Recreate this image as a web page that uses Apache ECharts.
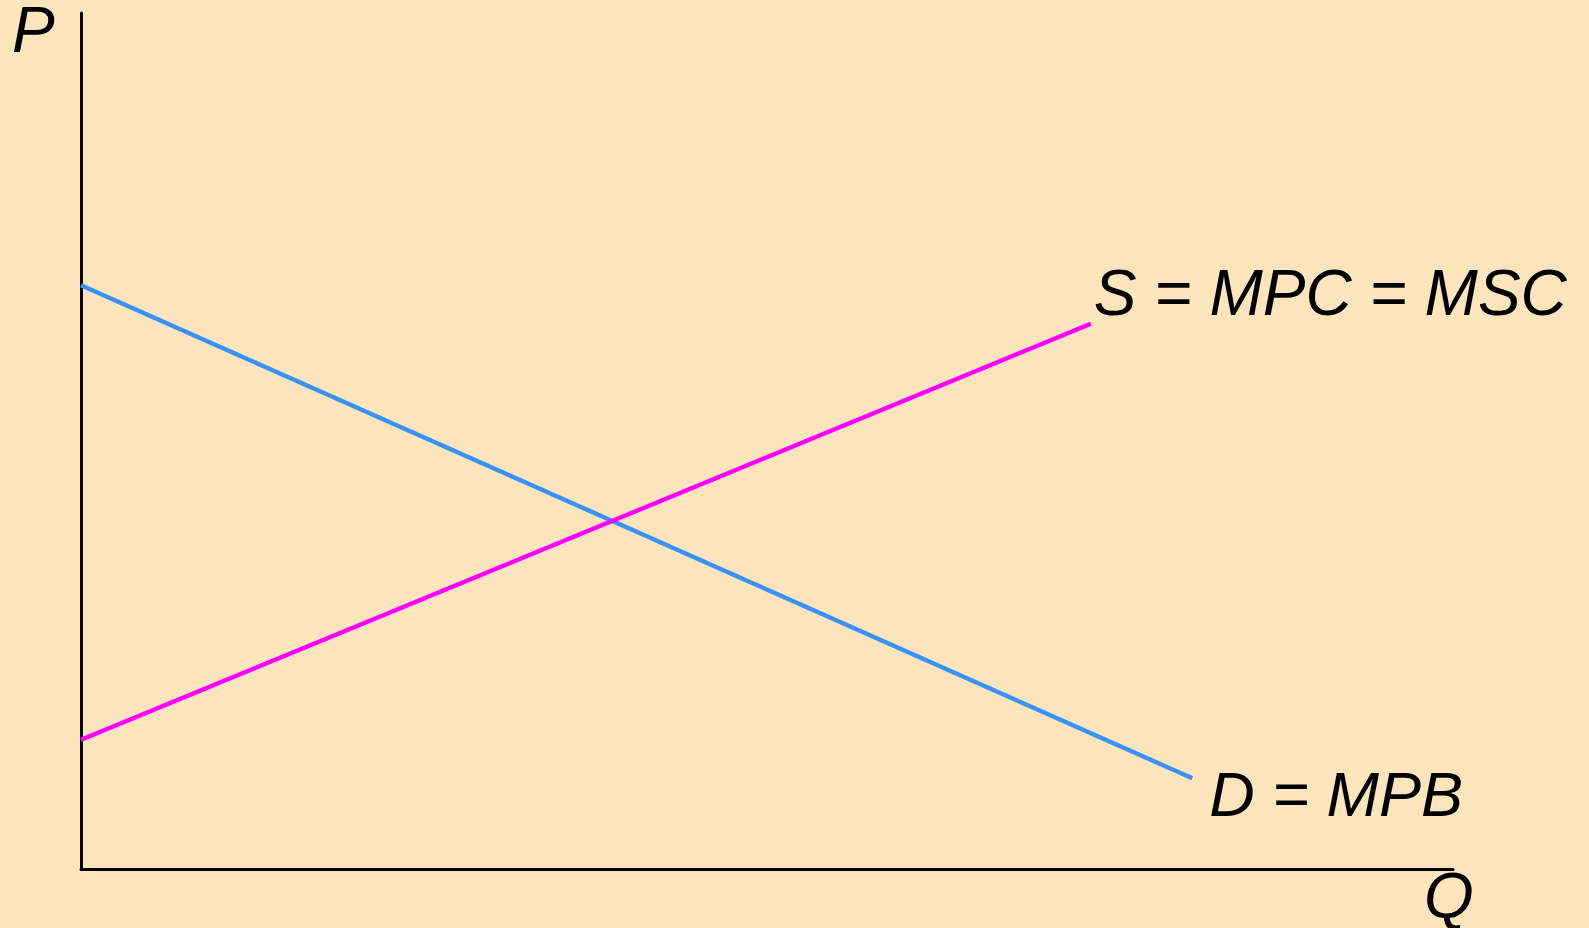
<!DOCTYPE html>
<html>
<head>
<meta charset="utf-8">
<script src="https://cdn.jsdelivr.net/npm/echarts@6/dist/echarts.min.js"></script>
<style>
html,body{margin:0;padding:0;background:#fce4bc;}
#c{width:1589px;height:928px;}
</style>
</head>
<body>
<div id="c"></div>
<script>
// Data (abstract units, 0-100 on both axes)
const demandPoints = [[0, 68.2], [81.0, 10.6]];
const supplyPoints = [[0, 15.1], [73.6, 63.7]];
const demandLabel = 'D = MPB';
const supplyLabel = 'S = MPC = MSC';
const xAxisName = 'Q';
const yAxisName = 'P';

const FONT = '"Liberation Sans", Arial, sans-serif';
const chart = echarts.init(document.getElementById('c'));
chart.setOption({
  backgroundColor: '#fce4bc',
  animation: false,
  grid: { left: 81, right: 136, top: 13, bottom: 59 },
  xAxis: {
    type: 'value', min: 0, max: 100,
    axisLine: { show: true, lineStyle: { color: '#000', width: 3 } },
    axisTick: { show: false }, axisLabel: { show: false }, splitLine: { show: false }
  },
  yAxis: {
    type: 'value', min: 0, max: 100,
    axisLine: { show: true, lineStyle: { color: '#000', width: 3 } },
    axisTick: { show: false }, axisLabel: { show: false }, splitLine: { show: false }
  },
  graphic: [
    { type: 'text', left: 12, top: 2, style: { text: yAxisName, font: 'italic 64px ' + FONT, fill: '#000' } },
    { type: 'text', left: 1424, top: 868, style: { text: xAxisName, font: 'italic 64px ' + FONT, fill: '#000' } }
  ],
  series: [
    {
      type: 'line', data: demandPoints, symbol: 'none',
      lineStyle: { color: '#3892f8', width: 4.5 },
      endLabel: {
        show: true, formatter: demandLabel, distance: 0, offset: [17, 20],
        fontSize: 63, fontStyle: 'italic', fontFamily: FONT, color: '#000'
      }
    },
    {
      type: 'line', data: supplyPoints, symbol: 'none',
      lineStyle: { color: '#ff00ff', width: 4.5 },
      endLabel: {
        show: true, formatter: supplyLabel, distance: 0, offset: [3, -27],
        fontSize: 64, fontStyle: 'italic', fontFamily: FONT, color: '#000'
      }
    }
  ]
});
</script>
</body>
</html>
